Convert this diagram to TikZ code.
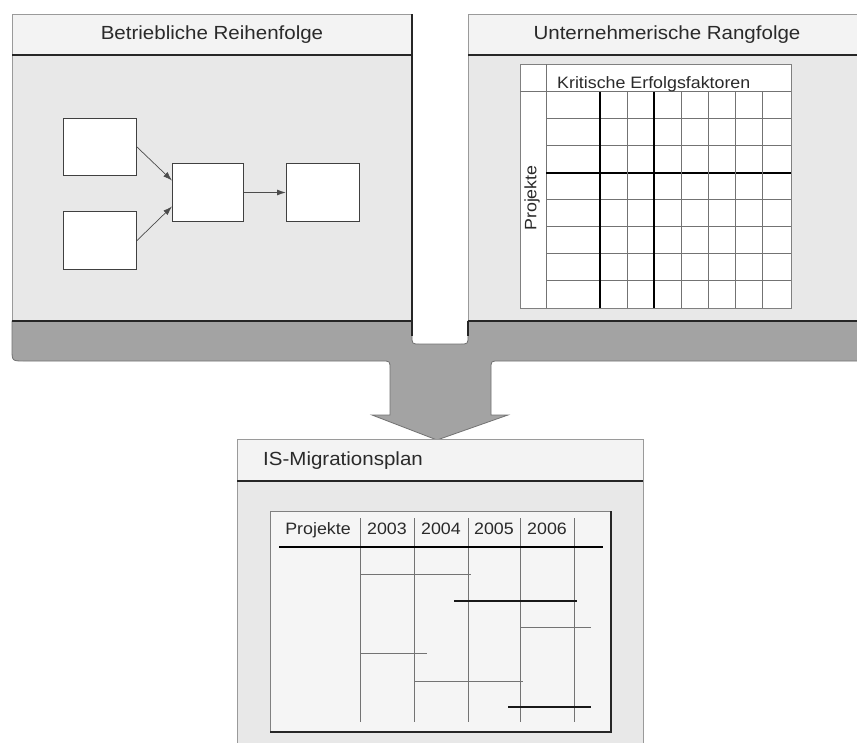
\documentclass[tikz,border=0pt]{standalone}
\usepackage{fontspec}
\setmainfont{Liberation Sans}
\newfontfamily\widesans[FakeStretch=1.08]{Liberation Sans}
\usetikzlibrary{arrows.meta,calc}
\definecolor{headfill}{HTML}{F3F3F3}
\definecolor{bodyfill}{HTML}{E8E8E8}
\definecolor{barfill}{HTML}{A3A3A3}
\definecolor{framefill}{HTML}{F5F5F5}
\definecolor{edgegray}{HTML}{9A9A9A}
\definecolor{inkgray}{HTML}{2A2A2A}
\tikzset{
  headbox/.style={draw=edgegray, fill=headfill, line width=0.8pt, inner sep=0pt, anchor=north west},
  titletext/.style={font=\widesans\fontsize{19}{22}\selectfont, text=inkgray, inner sep=0pt},
  smalltext/.style={font=\widesans\fontsize{16.5}{19}\selectfont, text=inkgray, inner sep=0pt},
  flowbox/.style={draw=black!75, fill=white, line width=1pt, inner sep=0pt, anchor=north west},
  flowlink/.style={draw=black!70, line width=0.7pt, -{Latex[length=9pt,width=6pt]}},
  gridthin/.style={draw=black!55, line width=1pt},
  gridthick/.style={draw=black, line width=1.5pt},
  darkedge/.style={draw=black!85, line width=1.4pt},
  softedge/.style={draw=edgegray, line width=0.8pt},
  ganttthin/.style={draw=black!55, line width=1pt},
  ganttthick/.style={draw=black!90, line width=1.6pt},
}
\begin{document}
\begin{tikzpicture}[x=1pt,y=-1pt]
\clip (0,0) rectangle (857,742);
\fill[white] (0,0) rectangle (857,742);

% grey bar with the arrow
\filldraw[fill=barfill, draw=black!55, line width=0.8pt]
  (12,321) -- (412,321) -- (412,336) .. controls (412,344) .. (420,344)
  -- (460,344) .. controls (468,344) .. (468,336) -- (468,321)
  -- (870,321) -- (870,361) -- (499,361) .. controls (491,361) .. (491,369)
  -- (491,415) -- (508,415) -- (437,440) -- (372,415) -- (390,415)
  -- (390,369) .. controls (390,361) .. (382,361)
  -- (24,361) .. controls (12,361) .. (12,349) -- cycle;

% ---------- left panel ----------
\fill[bodyfill] (12,55) rectangle (412,321);
\node[headbox, minimum width=400pt, minimum height=41pt] (lefthead) at (12,14) {};
\node[titletext] (lefttitle) at (212,35) {Betriebliche Reihenfolge};
\draw[softedge] (12,55) -- (12,321);
\draw[darkedge] (412,14) -- (412,336);
\draw[darkedge] (12,55) -- (412,55);
\draw[darkedge] (12,321) -- (412,321);

\node[flowbox, minimum width=73pt, minimum height=57pt] (boxa) at (63,118) {};
\node[flowbox, minimum width=73pt, minimum height=58pt] (boxb) at (63,211) {};
\node[flowbox, minimum width=71pt, minimum height=58pt] (boxc) at (172,163) {};
\node[flowbox, minimum width=73pt, minimum height=58pt] (boxd) at (286,163) {};
\draw[flowlink] (boxa.east) -- ($(boxc.west)+(0,-12)$);
\draw[flowlink] (boxb.east) -- ($(boxc.west)+(0,14)$);
\draw[flowlink, line width=1pt] (boxc.east) -- (boxd.west);

% ---------- right panel ----------
\fill[bodyfill] (468,55) rectangle (870,321);
\node[headbox, minimum width=398pt, minimum height=41pt] (righthead) at (468,14) {};
\node[titletext] (righttitle) at (667,35) {Unternehmerische Rangfolge};
\draw[softedge] (468,14) -- (468,321);
\draw[darkedge] (468,321) -- (468,336);
\draw[darkedge] (468,55) -- (870,55);
\draw[darkedge] (468,321) -- (870,321);

\node[draw=black!50, fill=white, line width=1.2pt, inner sep=0pt, anchor=north west,
      minimum width=271pt, minimum height=244pt] (grid) at (520,64) {};
\draw[gridthin] (520,91.7) -- (791,91.7);
\draw[gridthin] (546,64) -- (546,308);
\foreach \k in {1,2,4,5,6,7} {
  \draw[gridthin] (546,{91.7+27.04*\k}) -- (791,{91.7+27.04*\k});
}
\draw[gridthick] (546,172.8) -- (791,172.8);
\foreach \xx in {627.1,681.3,708.4,735.5,762.6} {
  \draw[gridthin] (\xx,91.7) -- (\xx,308);
}
\draw[gridthick] (600,91.7) -- (600,308);
\draw[gridthick] (654.2,91.7) -- (654.2,308);
\node[smalltext, anchor=base west] (cslabel) at (557,88.5) {Kritische Erfolgsfaktoren};
\node[smalltext, rotate=90] (projlabel) at (532,198) {Projekte};

% ---------- bottom panel ----------
\fill[bodyfill] (237,481) rectangle (643,750);
\draw[softedge] (237,481) -- (237,750);
\draw[softedge] (643,481) -- (643,750);
\node[headbox, minimum width=406pt, minimum height=42pt] (planhead) at (237,439) {};
\node[titletext, anchor=west] (plantitle) at (263,461) {IS-Migrationsplan};
\draw[darkedge] (237,481) -- (643,481);

\node[draw=black!50, fill=framefill, line width=1pt, inner sep=0pt, anchor=north west,
      minimum width=341pt, minimum height=221pt] (planframe) at (270,511) {};
\draw[darkedge, line width=1.2pt] (611,511) -- (611,732) -- (270,732);

\foreach \xx in {360,414,468,520,574} {
  \draw[gridthin] (\xx,518) -- (\xx,722);
}
\draw[gridthick] (279,547) -- (603,547);
\node[smalltext, anchor=base] (colproj) at (318,534) {Projekte};
\node[smalltext, anchor=base] (col2003) at (387,534) {2003};
\node[smalltext, anchor=base] (col2004) at (441,534) {2004};
\node[smalltext, anchor=base] (col2005) at (494,534) {2005};
\node[smalltext, anchor=base] (col2006) at (547,534) {2006};

\draw[ganttthin]  (360,574) -- (471,574);
\draw[ganttthick] (454,601) -- (577,601);
\draw[ganttthin]  (520,627) -- (591,627);
\draw[ganttthin]  (360,653) -- (427,653);
\draw[ganttthin]  (414,681) -- (523,681);
\draw[ganttthick] (508,707) -- (591,707);
\end{tikzpicture}
\end{document}
